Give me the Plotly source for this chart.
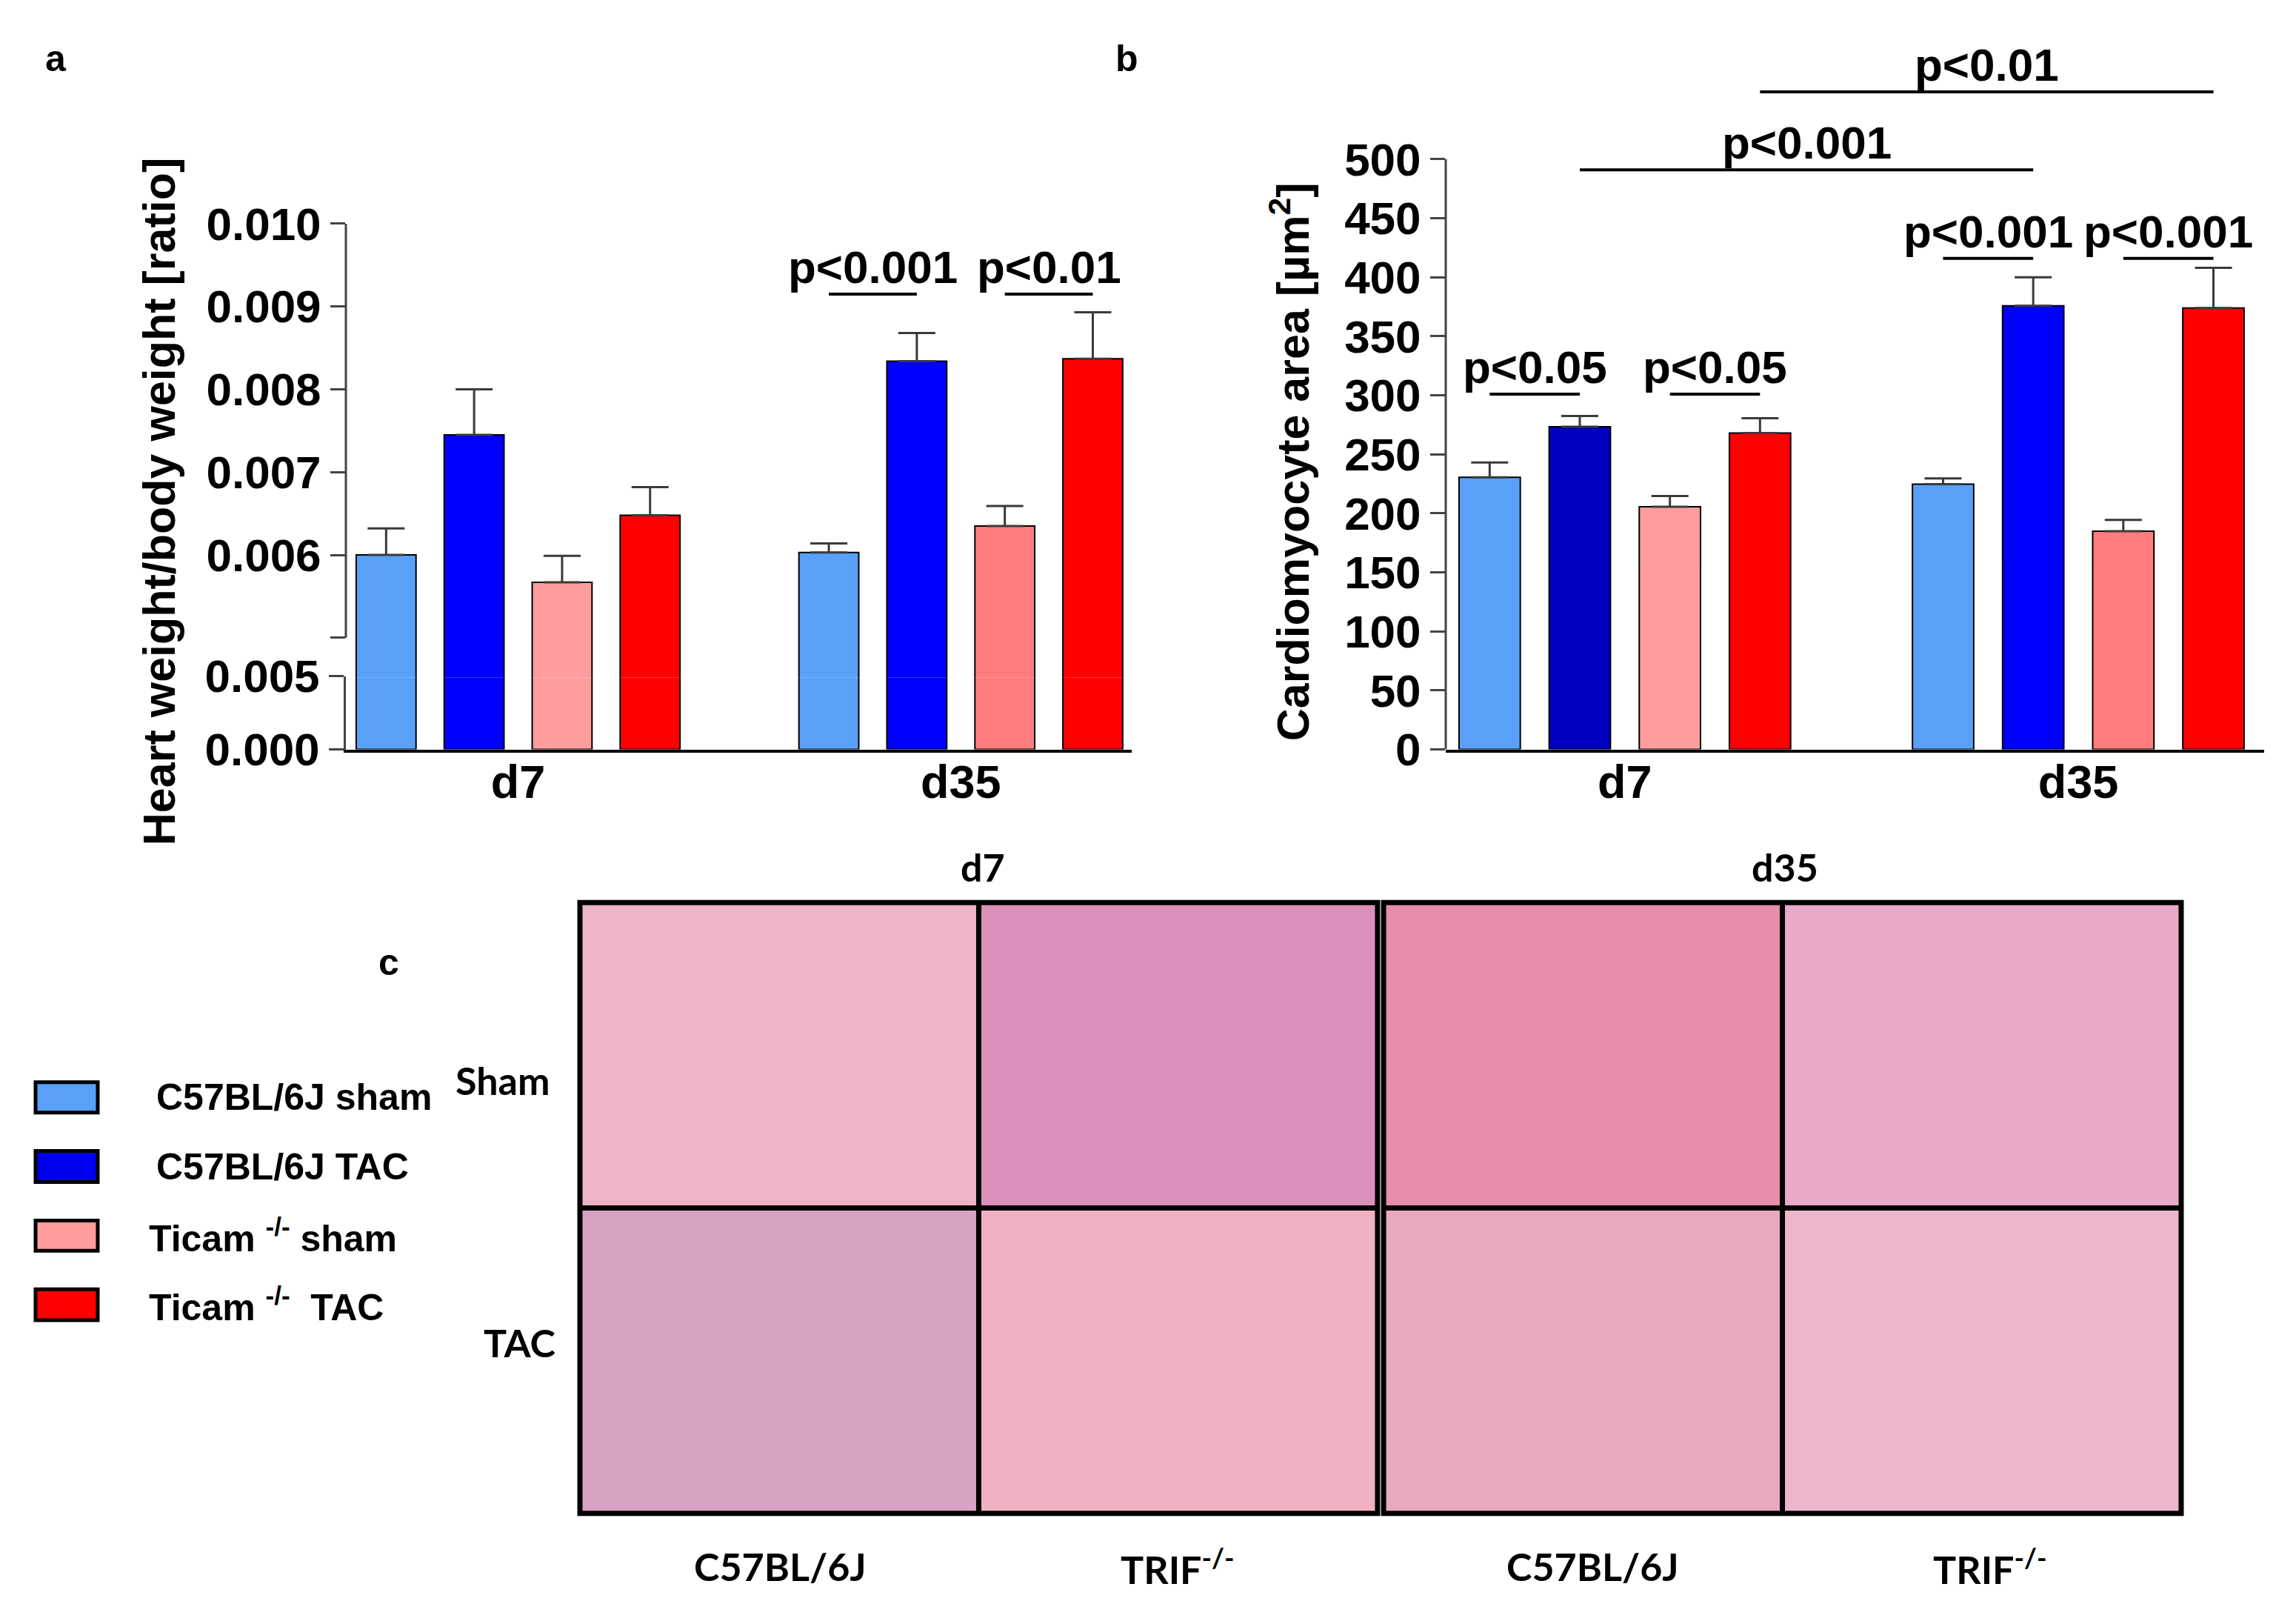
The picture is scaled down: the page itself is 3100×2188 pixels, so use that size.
import plotly.graph_objects as go

W, H = 3100, 2188

# data
groups = ["d7", "d35"]
series = ["C57BL/6J sham", "C57BL/6J TAC", "Ticam <sup>-/-</sup> sham", "Ticam <sup>-/-</sup>\u00a0 TAC"]

# panel a: heart weight / body weight (mean and top of error bar)
hw_d7 = [0.00600, 0.00745, 0.00567, 0.00648]
hw_d7_top = [0.00632, 0.00800, 0.00599, 0.00682]
hw_d35 = [0.00603, 0.00834, 0.00635, 0.00837]
hw_d35_top = [0.00614, 0.00868, 0.00659, 0.00893]

# panel b: cardiomyocyte area (mean and top of error bar)
area_d7 = [230.5, 273.3, 205.5, 268.0]
area_d7_top = [243.0, 282.5, 214.6, 280.6]
area_d35 = [224.7, 375.8, 184.8, 373.9]
area_d35_top = [229.5, 399.9, 194.4, 408.0]

# significance brackets: (group, bar, group, bar, y, label)
sig_a = [(1, 0, 1, 1, 0.00915, "p<0.001"), (1, 2, 1, 3, 0.00915, "p<0.01")]
sig_b = [(0, 0, 0, 1, 301, "p<0.05"), (0, 2, 0, 3, 301, "p<0.05"),
         (1, 0, 1, 1, 416, "p<0.001"), (1, 2, 1, 3, 416, "p<0.001"),
         (0, 1, 1, 1, 491, "p<0.001"), (0, 3, 1, 3, 557, "p<0.01")]

# panel c: mean tint of each histology tile (rows sham / TAC)
tile_colors = ["#ECB4C6", "#DA90B8", "#E68CAC", "#E8AAC8",
               "#D8A2C2", "#F0B2C2", "#E8A8C0", "#ECB6CE"]
tile_rows = ["Sham", "TAC"]
tile_cols = ["C57BL/6J", "TRIF<sup>-/-</sup>", "C57BL/6J", "TRIF<sup>-/-</sup>"]
tile_days = ["d7", "d35"]

# colours
col_d7_a = ["#59A0F8", "#0000FF", "#FF9C9C", "#FF0000"]
col_d7_b = ["#59A0F8", "#0000BE", "#FF9C9C", "#FF0000"]
col_d35 = ["#59A0F8", "#0000FF", "#FF7C7C", "#FF0000"]
legend_colors = ["#59A0F8", "#0000F0", "#FF9C9C", "#FF0000"]

ARIAL = "Liberation Sans, Arial, sans-serif"
SOFT = "Lato, Liberation Sans, sans-serif"
BARGAP = 0.205
GROUPGAP = 0.32

# page placement correction (page offset / vertical fit of the photographed page)
OX = 8
SY = 0.505 / 0.49
OY = 21 / 0.49


def px(x):
    return (x - OX) / W


def py(y):
    return 1 - (SY * y - OY) / H


def bar_x(g, b):
    slot = (1 - BARGAP) / 4
    return g + (b - 1.5) * slot


def text(x, y, s, font, **kw):
    d = dict(xref="paper", yref="paper", x=px(x), y=py(y), text=s, showarrow=False,
             xanchor="center", yanchor="middle", font=font)
    d.update(kw)
    return d


fig = go.Figure()

# panel a, lower and upper part of the broken axis
for i in range(4):
    colors = [col_d7_a[i], col_d35[i]]
    fig.add_trace(go.Bar(
        x=groups, y=[hw_d7[i], hw_d35[i]], xaxis="x", yaxis="y",
        marker=dict(color=colors, line=dict(color="black", width=2)),
        showlegend=False))
    fig.add_trace(go.Bar(
        x=groups, y=[hw_d7[i], hw_d35[i]], xaxis="x2", yaxis="y2",
        marker=dict(color=colors, line=dict(color="black", width=2)),
        error_y=dict(type="data", symmetric=False,
                     array=[hw_d7_top[i] - hw_d7[i], hw_d35_top[i] - hw_d35[i]],
                     arrayminus=[0, 0], color="#3a3a3a", thickness=3, width=25),
        showlegend=False))

# panel b
for i in range(4):
    fig.add_trace(go.Bar(
        x=groups, y=[area_d7[i], area_d35[i]], xaxis="x3", yaxis="y3",
        marker=dict(color=[col_d7_b[i], col_d35[i]], line=dict(color="black", width=2)),
        error_y=dict(type="data", symmetric=False,
                     array=[area_d7_top[i] - area_d7[i], area_d35_top[i] - area_d35[i]],
                     arrayminus=[0, 0], color="#3a3a3a", thickness=3, width=25),
        showlegend=False))

# panel c, histology tiles as coloured cells
z = [[0, 1, None, 2, 3], [4, 5, None, 6, 7]]
tile_x = [0, 1, 2, 2.015, 3.015, 4.015]
scale = [[k / 7, c] for k, c in enumerate(tile_colors)]
fig.add_trace(go.Heatmap(z=z, x=tile_x, y=[0, 1, 2], xaxis="x4", yaxis="y4",
                         colorscale=scale, zmin=0, zmax=7, showscale=False,
                         hoverinfo="skip"))

tick_font = dict(family=ARIAL, size=62, color="black", weight="bold")
cat_font = dict(family=ARIAL, size=63, color="black", weight="bold")
axis_common = dict(showgrid=False, zeroline=False, linecolor="black")
ytick = dict(ticks="outside", ticklen=20, tickwidth=3, tickcolor="#444444", tickfont=tick_font)

# upper segment of the broken axis: 0.010 at 302 px, 112 px per 0.001,
# bottom edge 2 px below the lower segment's top so the bars join cleanly
up_lo = 0.010 - (916 - 302) / 112.0 * 0.001
tile_pad = 6 / 538

fig.update_layout(
    width=W, height=H, margin=dict(l=0, r=0, t=0, b=0),
    paper_bgcolor="white", plot_bgcolor="white",
    barmode="group", bargap=BARGAP, bargroupgap=GROUPGAP,
    xaxis=dict(domain=[px(467), px(1528)], type="category", categoryarray=groups,
               range=[-0.389, 1.386], showline=True, linewidth=4, ticks="",
               tickfont=cat_font, ticklabelstandoff=-14, **axis_common),
    yaxis=dict(domain=[py(1013), py(914)], range=[0, 0.005], showline=True, linewidth=3,
               linecolor="#444444", tickvals=[0, 0.005], ticktext=["0.000", "0.005"],
               anchor="x", showgrid=False, zeroline=False, **ytick),
    xaxis2=dict(domain=[px(467), px(1528)], type="category", categoryarray=groups,
                range=[-0.389, 1.386], matches="x", visible=False, anchor="y2"),
    yaxis2=dict(domain=[py(916), py(302)], range=[up_lo, 0.010], showline=False,
                tickvals=[0.005, 0.006, 0.007, 0.008, 0.009, 0.010],
                ticktext=["", "0.006", "0.007", "0.008", "0.009", "0.010"],
                anchor="x2", showgrid=False, zeroline=False, **ytick),
    xaxis3=dict(domain=[px(1952), px(3057)], type="category", categoryarray=groups,
                range=[-0.395, 1.41], showline=True, linewidth=4, ticks="",
                tickfont=cat_font, ticklabelstandoff=-14, anchor="y3", **axis_common),
    yaxis3=dict(domain=[py(1013), py(87)], range=[0, 580], showline=False,
                tickvals=list(range(0, 501, 50)), anchor="x3",
                showgrid=False, zeroline=False, **ytick),
    xaxis4=dict(domain=[px(783 - 6), px(2945 + 6)], range=[-tile_pad, 4.015 + tile_pad],
                visible=False, anchor="y4"),
    yaxis4=dict(domain=[py(2046 + 6), py(1220 - 6)], range=[2 + 6 / 413, -6 / 413],
                visible=False, anchor="x4"),
)

shapes = []
annotations = []

# y axis line of the upper segment in panel a (stops at the break)
shapes.append(dict(type="line", xref="paper", yref="y2", x0=px(467), x1=px(467),
                   y0=0.005, y1=0.010, line=dict(color="#444444", width=3)))
# y axis line of panel b (only up to 500)
shapes.append(dict(type="line", xref="paper", yref="y3", x0=px(1952), x1=px(1952),
                   y0=0, y1=500, line=dict(color="#444444", width=3)))

# significance brackets
p_font = dict(family=ARIAL, size=62, color="black", weight="bold")
for sig, xr, yr in [(sig_a, "x2", "y2"), (sig_b, "x3", "y3")]:
    for g1, b1, g2, b2, y, label in sig:
        x0, x1 = bar_x(g1, b1), bar_x(g2, b2)
        shapes.append(dict(type="line", xref=xr, yref=yr, x0=x0, x1=x1, y0=y, y1=y,
                           line=dict(color="black", width=4)))
        annotations.append(dict(xref=xr, yref=yr, x=(x0 + x1) / 2, y=y, text=label,
                                showarrow=False, xanchor="center", yanchor="bottom",
                                font=p_font))

# axis titles
title_font = dict(family=ARIAL, size=61, color="black", weight="bold")
annotations.append(text(215, 678, "Heart weight/body weight [ratio]", title_font, textangle=-90))
annotations.append(text(1742, 624, "Cardiomyocyte area [µm<sup>2</sup>]", title_font, textangle=-90))

# panel letters
letter_font = dict(family=ARIAL, size=50, color="black", weight="bold")
for letter, lx, ly in [("a", 75, 79), ("b", 1521, 79), ("c", 525, 1301)]:
    annotations.append(text(lx, ly, letter, letter_font))

# legend boxes
box_y = [(1463, 1504), (1556, 1598), (1650, 1691), (1743, 1785)]
label_x = [209, 209, 199, 199]
legend_font = dict(family=ARIAL, size=50, color="black", weight="bold")
for i in range(4):
    y0, y1 = box_y[i]
    shapes.append(dict(type="rect", xref="paper", yref="paper", x0=px(48), x1=px(132),
                       y0=py(y1), y1=py(y0), fillcolor=legend_colors[i],
                       line=dict(color="black", width=5)))
    annotations.append(text(label_x[i], (y0 + y1) / 2, series[i], legend_font, xanchor="left"))

# tile frames
frame = dict(color="black", width=7)
for bx0, bx1 in [(0, 2), (2.015, 4.015)]:
    shapes.append(dict(type="rect", xref="x4", yref="y4", x0=bx0, x1=bx1, y0=0, y1=2, line=frame))
    shapes.append(dict(type="line", xref="x4", yref="y4", x0=bx0 + 1, x1=bx0 + 1, y0=0, y1=2, line=frame))
    shapes.append(dict(type="line", xref="x4", yref="y4", x0=bx0, x1=bx1, y0=1, y1=1, line=frame))

# tile labels
lab_font = dict(family=SOFT, size=52, color="black", weight="bold")
for k, day in enumerate(tile_days):
    annotations.append(text([1327, 2410][k], 1172, day, lab_font))
for k, row in enumerate(tile_rows):
    annotations.append(text([678, 701][k], [1460, 1815][k], row, lab_font))
for k, col in enumerate(tile_cols):
    annotations.append(text([1053, 1590, 2150, 2687][k], 2118, col, lab_font))

fig.update_layout(shapes=shapes, annotations=annotations)

fig.write_html("out.html")
